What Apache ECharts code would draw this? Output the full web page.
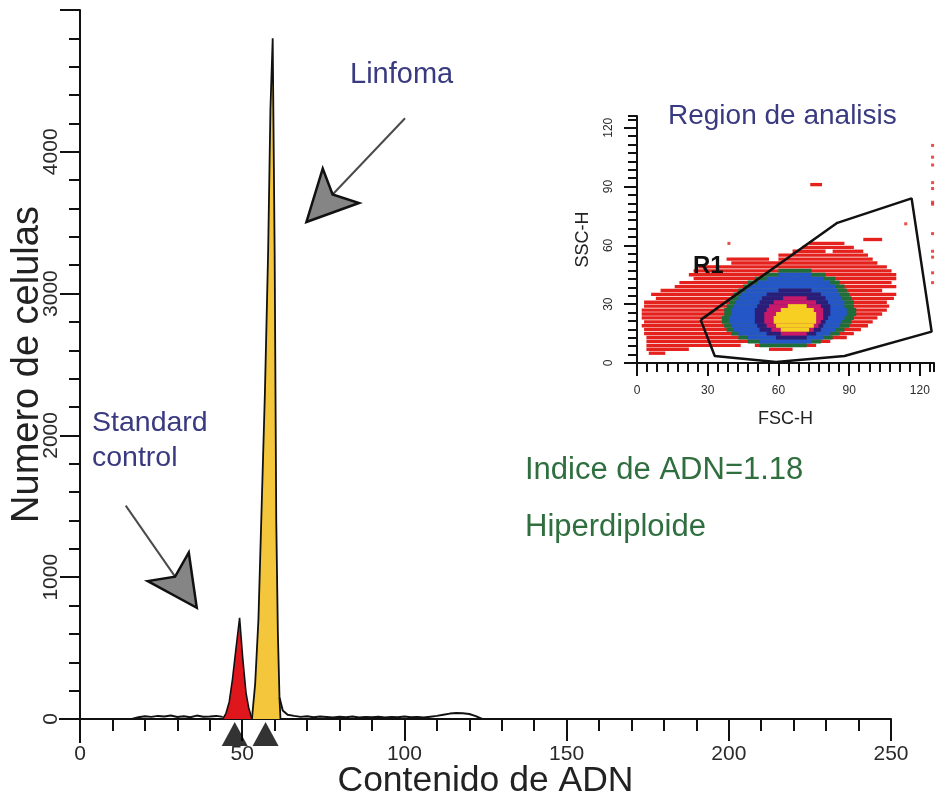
<!DOCTYPE html>
<html>
<head>
<meta charset="utf-8">
<script src="https://cdn.jsdelivr.net/npm/echarts@6/dist/echarts.min.js"></script>
<style>
  html, body { margin: 0; padding: 0; background: #fff; }
  #chart { width: 941px; height: 802px; }
</style>
</head>
<body>
<div id="chart"></div>
<script>
const FONT = '"Liberation Sans", Arial, sans-serif';

// histogram: background debris either side of the peaks
const noiseLeftX = [16, 18, 20, 22, 24, 26, 28, 30, 32, 34, 36, 38, 40, 42, 44];
const noiseLeftY = [0, 12, 20, 15, 22, 18, 25, 14, 20, 12, 24, 16, 18, 22, 15];
const noiseRightX = [61.5, 62.5, 64, 66, 68, 70, 72, 74, 76, 78, 80, 82, 84, 86, 88, 90, 92, 94, 96, 98, 100, 102, 104, 106, 108, 110, 112, 114, 116, 118, 120, 122, 124];
const noiseRightY = [150, 60, 30, 22, 15, 20, 12, 18, 14, 10, 16, 12, 18, 10, 14, 12, 16, 10, 14, 12, 18, 12, 15, 10, 16, 22, 30, 38, 42, 40, 35, 20, 0];

// standard control peak (red)
const redX = [44, 45, 46, 47, 48, 49.2, 50.2, 51.2, 52, 53];
const redY = [0, 40, 120, 280, 480, 714, 420, 180, 80, 0];

// linfoma peak (yellow)
const yelX = [53, 54, 55, 56, 57, 58, 58.7, 59.4, 60, 60.5, 61, 61.5, 61.8];
const yelY = [0, 250, 700, 1500, 2300, 3300, 4300, 4800, 3300, 1400, 600, 150, 0];

// G0/G1 markers under the axis
const markerX = [47.7, 57.2];
const markerY = [-106, -106];

// inset FSC/SSC density: [ssc, fscStart, fscEnd] per level
const redRows = [
  [63, 96, 104], [61, 73, 88], [59, 70, 92], [57, 66, 80], [57, 83, 96],
  [55, 60, 98], [53, 38, 56], [53, 60, 100], [51, 40, 102], [49, 26, 106],
  [47, 24, 108], [45, 22, 66], [45, 70, 110], [43, 24, 110], [41, 18, 108],
  [39, 16, 110], [37, 10, 104], [35, 6, 110], [33, 8, 109], [31, 3, 106],
  [29, 3, 107], [27, 2, 106], [25, 2, 104], [23, 2, 102], [21, 3, 100],
  [19, 2, 98], [17, 3, 95], [15, 3, 92], [13, 4, 89], [11, 4, 82],
  [9, 4, 44], [9, 50, 76], [7, 4, 22], [7, 56, 66], [5, 5, 12], [91, 73.5, 78.5]
];
const greenRows = [
  [47, 60, 74], [45, 54, 80], [43, 50, 84], [41, 47, 86], [39, 45, 88],
  [37, 43, 89], [35, 41, 90], [33, 40, 91], [31, 39, 92], [29, 38, 92],
  [27, 37, 93], [25, 37, 93], [23, 36, 92], [21, 36, 91], [19, 37, 90],
  [17, 38, 88], [15, 40, 86], [13, 43, 83], [11, 47, 78], [9, 52, 72]
];
const blueRows = [
  [45, 60, 74], [43, 55, 79], [41, 51, 82], [39, 48, 84], [37, 46, 85],
  [35, 44, 86], [33, 43, 87], [31, 42, 88], [29, 41, 88], [27, 40, 89],
  [25, 40, 89], [23, 39, 88], [21, 39, 87], [19, 40, 86], [17, 41, 84],
  [15, 43, 82], [13, 47, 79], [11, 52, 74]
];
const navyRows = [
  [37, 60, 74], [35, 55, 78], [33, 53, 80], [31, 52, 81], [29, 51, 82],
  [27, 50, 82], [25, 50, 82], [23, 50, 81], [21, 50, 80], [19, 51, 79],
  [17, 52, 78], [15, 55, 76], [13, 59, 72]
];
const magentaRows = [
  [33, 62, 72], [31, 58, 76], [29, 56, 78], [27, 55, 79], [25, 54, 79],
  [23, 54, 79], [21, 54, 78], [19, 55, 77], [17, 57, 75], [15, 61, 72]
];
const yellowRows = [
  [29, 64, 72], [27, 61, 75], [25, 59, 76], [23, 58, 76], [21, 58, 76],
  [19, 59, 75], [17, 61, 73]
];
const levelColors = ['#e4211d', '#1f6e3a', '#2456c8', '#2a1e78', '#c8186a', '#f6cf22'];

// isolated events (incl. off-scale column at the right edge)
const outlierFsc = [125.4, 125.4, 125.4, 125.4, 125.4, 125.4, 125.4, 125.4, 125.4, 125.4, 125.4, 125.4, 114, 39];
const outlierSsc = [111, 105, 101, 92, 89, 82, 81, 66, 57, 54, 46, 41, 71, 61];

// gate R1
const r1Fsc = [27, 33, 59, 88, 125, 116.5, 85, 27];
const r1Ssc = [22, 3.6, 0.5, 3.6, 16, 84, 71.5, 22];

const zip = (a, b) => a.map((v, i) => [v, b[i]]);

const densityData = [];
[redRows, greenRows, blueRows, navyRows, magentaRows, yellowRows].forEach((rows, lvl) => {
  rows.forEach(r => densityData.push([lvl, r[0], r[1], r[2]]));
});

const axisBlack = { color: '#111', width: 2 };
const plain = v => String(v);

const chart = echarts.init(document.getElementById('chart'));

const option = {
  animation: false,
  backgroundColor: '#fff',
  textStyle: { fontFamily: FONT },
  grid: [
    { left: 80, right: 50, top: 10, bottom: 83, outerBoundsMode: 'none', containLabel: false },
    { left: 637, right: 7, top: 116, bottom: 439, outerBoundsMode: 'none', containLabel: false }
  ],
  xAxis: [
    {
      gridIndex: 0, type: 'value', position: 'bottom',
      min: 0, max: 250, interval: 50,
      axisLine: { onZero: false, lineStyle: axisBlack },
      axisTick: { length: 22, lineStyle: axisBlack },
      minorTick: { show: true, splitNumber: 5, length: 12, lineStyle: axisBlack },
      splitLine: { show: false },
      axisLabel: { fontSize: 21, margin: 25, color: '#2a2a2a', fontFamily: FONT, formatter: plain },
      name: 'Contenido de ADN', nameLocation: 'middle', nameGap: 44, nameMoveOverlap: false,
      nameTextStyle: { fontSize: 35.5, color: '#222', fontFamily: FONT }
    },
    {
      gridIndex: 1, type: 'value', position: 'bottom',
      min: 0, max: 126, interval: 30,
      axisLine: { onZero: false, lineStyle: axisBlack },
      axisTick: { length: 13, lineStyle: axisBlack },
      splitLine: { show: false },
      axisLabel: { fontSize: 12, margin: 22, color: '#2a2a2a', showMaxLabel: false, fontFamily: FONT, formatter: plain },
      name: 'FSC-H', nameLocation: 'middle', nameGap: 47, nameMoveOverlap: false,
      nameTextStyle: { fontSize: 18, color: '#222', fontFamily: FONT }
    },
    {
      gridIndex: 1, type: 'value', position: 'bottom',
      min: 0, max: 126, interval: 30 / 7,
      axisLine: { show: false, onZero: false },
      axisTick: { length: 9, lineStyle: axisBlack },
      splitLine: { show: false },
      axisLabel: { show: false }
    }
  ],
  yAxis: [
    {
      gridIndex: 0, type: 'value', position: 'left',
      min: 0, max: 5000, interval: 1000,
      axisLine: { show: true, onZero: false, lineStyle: axisBlack },
      axisTick: { show: true, length: 20, lineStyle: axisBlack },
      minorTick: { show: true, splitNumber: 5, length: 11, lineStyle: axisBlack },
      splitLine: { show: false },
      axisLabel: { rotate: 90, fontSize: 21, margin: 18, color: '#2a2a2a', showMaxLabel: false, fontFamily: FONT, formatter: plain },
      name: 'Numero de celulas', nameLocation: 'middle', nameGap: 33, nameMoveOverlap: false,
      nameTextStyle: { fontSize: 38, color: '#222', fontFamily: FONT }
    },
    {
      gridIndex: 1, type: 'value', position: 'left',
      min: 0, max: 126, interval: 30,
      axisLine: { show: true, onZero: false, lineStyle: axisBlack },
      axisTick: { show: true, length: 13, lineStyle: axisBlack },
      splitLine: { show: false },
      axisLabel: { rotate: 90, fontSize: 12, margin: 22, color: '#2a2a2a', showMaxLabel: false, fontFamily: FONT, formatter: plain },
      name: 'SSC-H', nameLocation: 'middle', nameGap: 45, nameMoveOverlap: false,
      nameTextStyle: { fontSize: 18, color: '#222', fontFamily: FONT }
    },
    {
      gridIndex: 1, type: 'value', position: 'left',
      min: 0, max: 126, interval: 30 / 7,
      axisLine: { show: false, onZero: false },
      axisTick: { show: true, length: 9, lineStyle: axisBlack },
      splitLine: { show: false },
      axisLabel: { show: false }
    }
  ],
  series: [
    {
      type: 'line', xAxisIndex: 0, yAxisIndex: 0,
      data: zip(noiseLeftX, noiseLeftY), showSymbol: false,
      lineStyle: { color: '#111', width: 2 }
    },
    {
      type: 'line', xAxisIndex: 0, yAxisIndex: 0,
      data: zip(noiseRightX, noiseRightY), showSymbol: false,
      lineStyle: { color: '#111', width: 2 }
    },
    {
      type: 'line', xAxisIndex: 0, yAxisIndex: 0,
      data: zip(redX, redY), showSymbol: false,
      lineStyle: { color: '#111', width: 1.6 },
      areaStyle: { color: '#e0161d', opacity: 1 }
    },
    {
      type: 'line', xAxisIndex: 0, yAxisIndex: 0,
      data: zip(yelX, yelY), showSymbol: false,
      lineStyle: { color: '#111', width: 1.8 },
      areaStyle: { color: '#f3c63c', opacity: 1 }
    },
    {
      type: 'scatter', xAxisIndex: 0, yAxisIndex: 0,
      data: zip(markerX, markerY), clip: false,
      symbol: 'triangle', symbolSize: [26, 24],
      itemStyle: { color: '#000' }
    },
    {
      type: 'custom', xAxisIndex: 1, yAxisIndex: 1,
      data: densityData,
      encode: { x: [2, 3], y: 1 },
      renderItem: function (params, api) {
        const lvl = api.value(0);
        const y = api.value(1);
        const h = lvl === 0 ? 1.7 : 2.05;
        const p0 = api.coord([api.value(2), y + h / 2]);
        const p1 = api.coord([api.value(3), y - h / 2]);
        return {
          type: 'rect',
          shape: { x: p0[0], y: p0[1], width: p1[0] - p0[0], height: p1[1] - p0[1] },
          style: { fill: levelColors[lvl] }
        };
      }
    },
    {
      type: 'scatter', xAxisIndex: 1, yAxisIndex: 1,
      data: zip(outlierFsc, outlierSsc),
      symbol: 'rect', symbolSize: [3, 3],
      itemStyle: { color: '#e4211d' }
    },
    {
      type: 'line', xAxisIndex: 1, yAxisIndex: 1,
      data: zip(r1Fsc, r1Ssc), showSymbol: false,
      lineStyle: { color: '#111', width: 2.5 }
    }
  ]
};

chart.setOption(option);

// annotation arrows, anchored in data coordinates of the histogram
const arrows = [
  { from: [100.2, 4237], to: [69.8, 3505] },
  { from: [14.1, 1505], to: [36, 784] }
];

function arrowGraphics(a) {
  const p0 = chart.convertToPixel({ gridIndex: 0 }, a.from);
  const p1 = chart.convertToPixel({ gridIndex: 0 }, a.to);
  const dx = p0[0] - p1[0], dy = p0[1] - p1[1];
  const len = Math.hypot(dx, dy);
  const ux = dx / len, uy = dy / len, nx = -uy, ny = ux;
  const L = 50, W = 25, N = 38;
  const notch = [p1[0] + ux * N, p1[1] + uy * N];
  return [
    {
      type: 'line', z: 10,
      shape: { x1: p0[0], y1: p0[1], x2: notch[0], y2: notch[1] },
      style: { stroke: '#4a4a4a', lineWidth: 2 }
    },
    {
      type: 'polygon', z: 11,
      shape: {
        points: [
          p1,
          [p1[0] + ux * L + nx * W, p1[1] + uy * L + ny * W],
          notch,
          [p1[0] + ux * L - nx * W, p1[1] + uy * L - ny * W]
        ]
      },
      style: { fill: '#858585', stroke: '#111', lineWidth: 2.5 }
    }
  ];
}

// short axis stubs past the origin, as in the original plot
function originStubs(gridIndex, left, down) {
  const o = chart.convertToPixel({ gridIndex: gridIndex }, [0, 0]);
  return [
    { type: 'line', z: 5, shape: { x1: o[0] - left, y1: o[1], x2: o[0], y2: o[1] }, style: { stroke: '#111', lineWidth: 2 } },
    { type: 'line', z: 5, shape: { x1: o[0], y1: o[1], x2: o[0], y2: o[1] + down }, style: { stroke: '#111', lineWidth: 2 } }
  ];
}

function label(text, x, y, size, color, weight) {
  return {
    type: 'text', z: 12, x: x, y: y,
    style: {
      text: text, fill: color, fontSize: size, fontFamily: FONT,
      fontWeight: weight || 'normal', verticalAlign: 'middle', align: 'left'
    }
  };
}

const navy = '#3a3a80';
const green = '#2f6e3f';

chart.setOption({
  graphic: [].concat(
    arrowGraphics(arrows[0]),
    arrowGraphics(arrows[1]),
    originStubs(0, 21, 24),
    originStubs(1, 12, 13),
    [
      label('Linfoma', 350, 75, 29, navy),
      label('Standard', 92, 423, 28.5, navy),
      label('control', 92, 458, 28.5, navy),
      label('Region de analisis', 668, 116, 28, navy),
      label('Indice de ADN=1.18', 525, 470, 31, green),
      label('Hiperdiploide', 525, 527, 31, green),
      label('R1', 693, 266, 24, '#111', 'bold')
    ]
  )
});
</script>
</body>
</html>
